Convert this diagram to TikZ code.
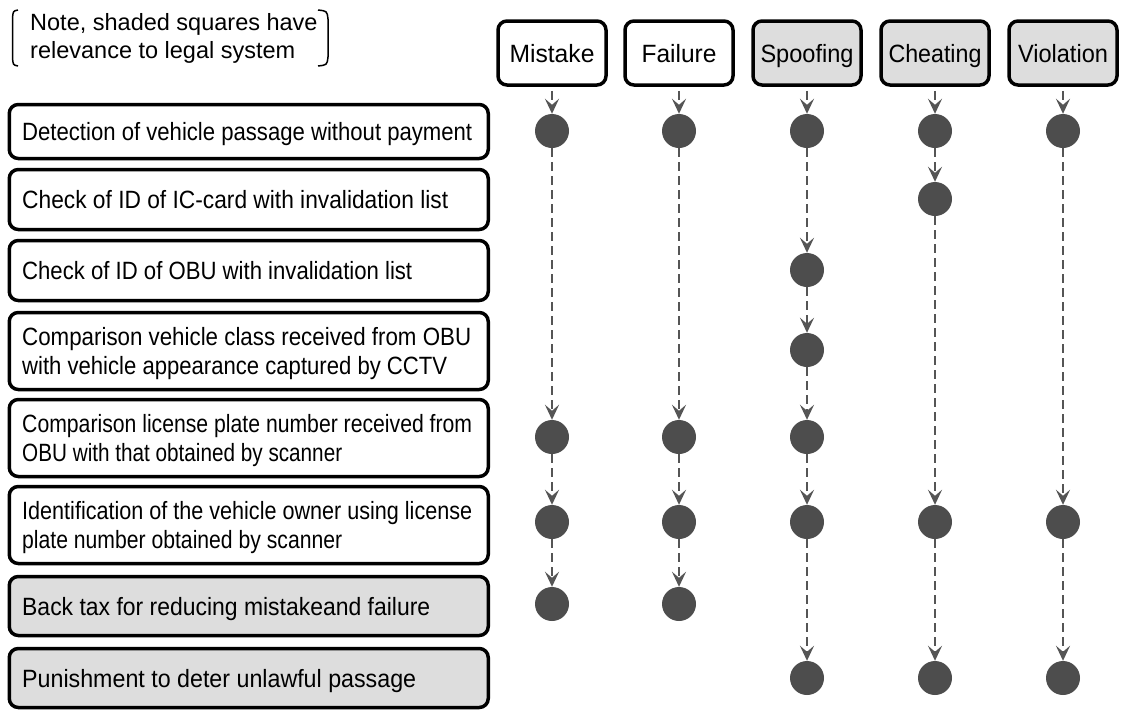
\documentclass[tikz,border=0pt]{standalone}
\usepackage{fontspec}
\usepackage{graphicx}
\setmainfont{Liberation Sans}
\usetikzlibrary{arrows.meta}

\definecolor{shade}{HTML}{DDDDDD}
\definecolor{dotgray}{HTML}{4D4D4D}
\definecolor{linkgray}{HTML}{555555}

% set a line of text to a given width, keeping its height
\newcommand{\fitw}[2]{\resizebox{#1}{\height}{#2}}

\tikzset{
  rowbox/.style={draw=black, line width=3.5pt, rounded corners=9pt,
    minimum width=479pt, minimum height=#1, inner sep=0pt, anchor=west},
  rowtext/.style={anchor=base west, inner sep=0pt,
    font=\fontsize{25pt}{29pt}\selectfont},
  hdrbox/.style={draw=black, line width=3.5pt, rounded corners=9pt,
    minimum width=108pt, minimum height=64pt, inner sep=0pt,
    text height=18pt, text depth=0pt,
    font=\fontsize{25pt}{29pt}\selectfont},
  legal/.style={fill=shade},
  notetext/.style={anchor=base west, inner sep=0pt,
    font=\fontsize{23.5pt}{28pt}\selectfont},
  mark dot/.style={circle, fill=dotgray, minimum size=34pt, inner sep=0pt},
  link/.style={draw=linkgray, line width=2.6pt, dash pattern=on 9pt off 5pt,
    -{Stealth[length=15pt, width=14pt, inset=6pt]}},
  bracket/.style={draw=black, line width=1.5pt}
}

\begin{document}
\begin{tikzpicture}[x=1pt, y=-1pt]
\useasboundingbox (0,0) rectangle (1124,713);

% note with its brackets
\node[notetext] (note1) at (30,30) {Note, shaded squares have};
\node[notetext] (note2) at (30,58) {relevance to legal system};
\draw[bracket] (18,10) .. controls (13,11) .. (12.5,19) -- (12.5,57)
  .. controls (13,65) .. (18,66);
\draw[bracket] (318,10) .. controls (327,11) .. (328,19) -- (328,57)
  .. controls (327,65) .. (318,66);

% column headings
\node[hdrbox] (mis) at (552,53) {\fitw{85pt}{Mistake}};
\node[hdrbox] (fai) at (679,53) {\fitw{75pt}{Failure}};
\node[hdrbox, legal] (spo) at (807,53) {\fitw{93pt}{Spoofing}};
\node[hdrbox, legal] (che) at (935,53) {\fitw{93pt}{Cheating}};
\node[hdrbox, legal] (vio) at (1063,53) {\fitw{90pt}{Violation}};

% measures, one per row
\node[rowbox=54pt] (r1) at (7.5,131.5) {};
\node[rowbox=60pt] (r2) at (7.5,199.5) {};
\node[rowbox=60pt] (r3) at (7.5,270.5) {};
\node[rowbox=77pt] (r4) at (7.5,351) {};
\node[rowbox=77pt] (r5) at (7.5,438) {};
\node[rowbox=77pt] (r6) at (7.5,525) {};
\node[rowbox=59pt, legal] (r7) at (7.5,606) {};
\node[rowbox=59pt, legal] (r8) at (7.5,678) {};

\node[rowtext] (r1a) at ([xshift=14.5pt, yshift=-9pt]r1.west)
  {\fitw{450pt}{Detection of vehicle passage without payment}};
\node[rowtext] (r2a) at ([xshift=14.5pt, yshift=-9pt]r2.west)
  {\fitw{426pt}{Check of ID of IC-card with invalidation list}};
\node[rowtext] (r3a) at ([xshift=14.5pt, yshift=-9pt]r3.west)
  {\fitw{390pt}{Check of ID of OBU with invalidation list}};
\node[rowtext] (r4a) at ([xshift=14.5pt, yshift=5.5pt]r4.west)
  {\fitw{449pt}{Comparison vehicle class received from OBU}};
\node[rowtext] (r4b) at ([xshift=14.5pt, yshift=-23.5pt]r4.west)
  {\fitw{425pt}{with vehicle appearance captured by CCTV}};
\node[rowtext] (r5a) at ([xshift=14.5pt, yshift=5.5pt]r5.west)
  {\fitw{450pt}{Comparison license plate number received from}};
\node[rowtext] (r5b) at ([xshift=14.5pt, yshift=-23.5pt]r5.west)
  {\fitw{320pt}{OBU with that obtained by scanner}};
\node[rowtext] (r6a) at ([xshift=14.5pt, yshift=5.5pt]r6.west)
  {\fitw{450pt}{Identification of the vehicle owner using license}};
\node[rowtext] (r6b) at ([xshift=14.5pt, yshift=-23.5pt]r6.west)
  {\fitw{320pt}{plate number obtained by scanner}};
\node[rowtext] (r7a) at ([xshift=14.5pt, yshift=-9pt]r7.west)
  {\fitw{408pt}{Back tax for reducing mistakeand failure}};
\node[rowtext] (r8a) at ([xshift=14.5pt, yshift=-9pt]r8.west)
  {\fitw{394pt}{Punishment to deter unlawful passage}};

% dots: Mistake
\node[mark dot] (m1) at (552,131) {};
\node[mark dot] (m5) at (552,437) {};
\node[mark dot] (m6) at (552,522) {};
\node[mark dot] (m7) at (552,604) {};
% dots: Failure
\node[mark dot] (f1) at (679,131) {};
\node[mark dot] (f5) at (679,437) {};
\node[mark dot] (f6) at (679,522) {};
\node[mark dot] (f7) at (679,604) {};
% dots: Spoofing
\node[mark dot] (s1) at (807,131) {};
\node[mark dot] (s3) at (807,270) {};
\node[mark dot] (s4) at (807,350) {};
\node[mark dot] (s5) at (807,437) {};
\node[mark dot] (s6) at (807,522) {};
\node[mark dot] (s8) at (807,678) {};
% dots: Cheating
\node[mark dot] (c1) at (935,131) {};
\node[mark dot] (c2) at (935,199) {};
\node[mark dot] (c6) at (935,522) {};
\node[mark dot] (c8) at (935,678) {};
% dots: Violation
\node[mark dot] (v1) at (1063,131) {};
\node[mark dot] (v6) at (1063,522) {};
\node[mark dot] (v8) at (1063,678) {};

% dashed chains
\draw[link] ([yshift=-4pt]mis.south) -- (m1.north);
\draw[link] (m1.south) -- (m5.north);
\draw[link] (m5.south) -- (m6.north);
\draw[link] (m6.south) -- (m7.north);

\draw[link] ([yshift=-4pt]fai.south) -- (f1.north);
\draw[link] (f1.south) -- (f5.north);
\draw[link] (f5.south) -- (f6.north);
\draw[link] (f6.south) -- (f7.north);

\draw[link] ([yshift=-4pt]spo.south) -- (s1.north);
\draw[link] (s1.south) -- (s3.north);
\draw[link] (s3.south) -- (s4.north);
\draw[link] (s4.south) -- (s5.north);
\draw[link] (s5.south) -- (s6.north);
\draw[link] (s6.south) -- (s8.north);

\draw[link] ([yshift=-4pt]che.south) -- (c1.north);
\draw[link] (c1.south) -- (c2.north);
\draw[link] (c2.south) -- (c6.north);
\draw[link] (c6.south) -- (c8.north);

\draw[link] ([yshift=-4pt]vio.south) -- (v1.north);
\draw[link] (v1.south) -- (v6.north);
\draw[link] (v6.south) -- (v8.north);
\end{tikzpicture}
\end{document}
